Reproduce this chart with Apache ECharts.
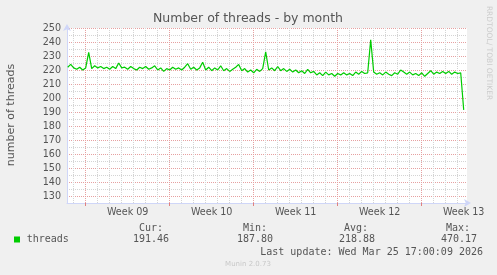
<!DOCTYPE html>
<html>
<head>
<meta charset="utf-8">
<script src="https://cdn.jsdelivr.net/npm/echarts@6/dist/echarts.min.js"></script>
<style>
html,body{margin:0;padding:0;background:#f0f0f0;}
#c{width:497px;height:275px;}
</style>
</head>
<body>
<div id="c"></div>
<script>
// ---- data (x in days from start of Week 09; samples every 6 hours) ----
const startDay = -1.5;
const stepDay = 0.25;
const threads = [
  222, 224, 221.5, 220.5, 222, 220, 221.5, 232.6, 221, 223,
  221.5, 222.5, 221, 222, 220.5, 222.5, 221, 225, 221.5, 222,
  220.5, 222.5, 221, 220, 222, 221, 222.5, 220.5, 221.5, 223,
  220, 221.5, 219, 221, 220, 222, 220.5, 221.5, 220, 222,
  224.5, 220.5, 222, 220, 221.5, 225.5, 220, 222, 219.5, 221.5,
  220, 223, 219.5, 221, 219, 220.5, 222, 224, 219.5, 221,
  218.5, 220, 218, 220.5, 219, 221, 233, 220, 221.5, 219.5,
  222.5, 219.5, 221, 219, 220.5, 218.5, 220, 218, 219.5, 217.5,
  220.5, 218, 219, 216.5, 218, 216, 218.5, 216.5, 217.5, 215.5,
  217.5, 216.5, 218, 216.5, 217.5, 216, 218.5, 217, 219, 217.5,
  218, 241.5, 218.5, 217, 218, 216.5, 218.5, 217, 216, 218,
  217, 220, 218.5, 217, 218.5, 216.5, 217.5, 216, 218, 215.5,
  217.5, 219.5, 217, 218.5, 217.5, 219, 217.5, 219, 217, 218.5,
  217.5, 218, 191.5
];
const weekTicks = [0, 7, 14, 21, 28];
const weekCenters = [3.5, 10.5, 17.5, 24.5, 31.5];
const weekLabels = ['Week 09', 'Week 10', 'Week 11', 'Week 12', 'Week 13'];
const dayLines = [-1, 1, 2, 3, 4, 5, 6, 8, 9, 10, 11, 12, 13, 15, 16, 17, 18, 19, 20,
                  22, 23, 24, 25, 26, 27, 29, 30, 31];
const xMin = -1.5583, xMax = 31.775;
const yMin = 125, yMax = 250, yStep = 5;
const statHeads = ['Cur:', 'Min:', 'Avg:', 'Max:'];
const statVals = ['191.46', '187.80', '218.88', '470.17'];

const seriesData = threads.map((v, i) => [startDay + i * stepDay, v]);

const FONT = 'DejaVu Sans';
const MONO = 'DejaVu Sans Mono';
const TXT = '#555';
const AXIS = '#cfd6f8';
const MAJ = '#e6a0a0';
const MIN = '#d4d4d4';

const chart = echarts.init(document.getElementById('c'), null, {renderer: 'canvas'});

const headX = [163, 267, 368, 470];
const valX = [169, 273, 375, 477];
const graphics = [
  {type: 'text', x: 248, y: 19, style: {text: 'Number of threads - by month', font: '12.5px ' + FONT, fill: TXT, textAlign: 'center', textVerticalAlign: 'middle'}},
  {type: 'text', x: 11.5, y: 115, rotation: Math.PI / 2, style: {text: 'number of threads', font: '11px ' + FONT, fill: TXT, textAlign: 'center', textVerticalAlign: 'middle'}},
  {type: 'text', x: 488.5, y: 53, rotation: -Math.PI / 2, style: {text: 'RRDTOOL/ TOBI OETIKER', font: '7.5px ' + FONT, fill: '#cccccc', textAlign: 'center', textVerticalAlign: 'middle'}},
  {type: 'rect', shape: {x: 14, y: 236.5, width: 6, height: 6}, style: {fill: '#00cc00'}},
  {type: 'text', x: 26.7, y: 239.5, style: {text: 'threads', font: '10px ' + MONO, fill: TXT, textAlign: 'left', textVerticalAlign: 'middle'}},
  {type: 'text', x: 483, y: 252, style: {text: 'Last update: Wed Mar 25 17:00:09 2026', font: '10px ' + MONO, fill: TXT, textAlign: 'right', textVerticalAlign: 'middle'}},
  {type: 'text', x: 248, y: 264.5, style: {text: 'Munin 2.0.73', font: '7px ' + FONT, fill: '#c8c8c8', textAlign: 'center', textVerticalAlign: 'middle'}}
];
statHeads.forEach((h, k) => {
  graphics.push({type: 'text', x: headX[k], y: 228.5, style: {text: h, font: '10px ' + MONO, fill: TXT, textAlign: 'right', textVerticalAlign: 'middle'}});
  graphics.push({type: 'text', x: valX[k], y: 239.5, style: {text: statVals[k], font: '10px ' + MONO, fill: TXT, textAlign: 'right', textVerticalAlign: 'middle'}});
});

chart.setOption({
  animation: false,
  backgroundColor: '#f0f0f0',
  grid: {left: 67, top: 28, width: 400, height: 175, show: true, backgroundColor: '#ffffff', borderWidth: 0},
  xAxis: [
    {
      type: 'value', min: xMin, max: xMax,
      axisLine: {show: true, onZero: false, lineStyle: {color: AXIS, width: 1}, symbol: ['none', 'arrow'], symbolSize: [6, 7], symbolOffset: [0, 4]},
      axisTick: {show: true, customValues: weekTicks, length: 3, lineStyle: {color: '#e08080'}},
      axisLabel: {customValues: weekCenters, margin: 4, fontFamily: FONT, fontSize: 9.6, color: TXT,
        formatter: v => weekLabels[weekCenters.indexOf(v)] || ''},
      splitLine: {show: false},
      z: 3
    },
    {
      type: 'value', min: xMin, max: xMax, position: 'bottom',
      axisLine: {show: false, onZero: false}, axisLabel: {show: false},
      axisTick: {show: false, customValues: dayLines},
      splitLine: {show: true, customValues: dayLines, lineStyle: {color: MIN, type: [1, 1], width: 1}}
    }
  ],
  yAxis: {
    type: 'value', min: yMin, max: yMax, interval: yStep,
    axisLine: {show: true, onZero: false, lineStyle: {color: AXIS, width: 1}, symbol: ['none', 'arrow'], symbolSize: [6, 7], symbolOffset: [0, 4]},
    axisTick: {show: false},
    axisLabel: {margin: 6, fontFamily: FONT, fontSize: 9.6, color: TXT, showMinLabel: false,
      formatter: v => (v % 10 === 0 ? String(v) : '')},
    splitLine: {show: true, lineStyle: {color: [MIN, MAJ], type: [1, 1], width: 1}}
  },
  series: [
    {
      type: 'line', xAxisIndex: 0, data: [], silent: true, z: 1,
      markLine: {
        silent: true, symbol: ['none', 'none'], label: {show: false},
        lineStyle: {color: MAJ, type: [1, 1], width: 1, opacity: 1},
        emphasis: {disabled: true},
        data: weekTicks.map(v => ({xAxis: v}))
      }
    },
    {
      type: 'line', xAxisIndex: 0, data: seriesData, showSymbol: false, symbol: 'none',
      lineStyle: {color: '#00cc00', width: 1.2}, z: 5
    }
  ],
  graphic: graphics
});
</script>
</body>
</html>
